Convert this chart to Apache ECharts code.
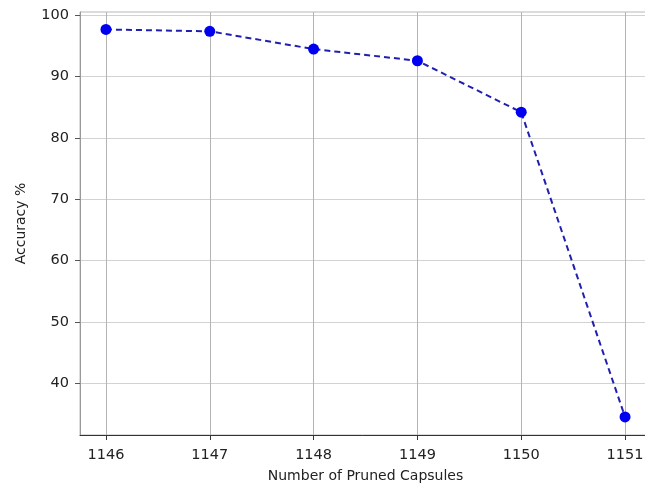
<!DOCTYPE html>
<html>
<head>
<meta charset="utf-8">
<script src="https://cdn.jsdelivr.net/npm/echarts@6/dist/echarts.min.js"></script>
<style>html,body{margin:0;padding:0;background:#fff}#c{width:645px;height:485px}</style>
</head>
<body>
<div id="c"></div>
<script>
const prunedCapsules = [1146, 1147, 1148, 1149, 1150, 1151];
const accuracy = [97.7, 97.4, 94.5, 92.6, 84.2, 34.5];
const xTicks = [1146, 1147, 1148, 1149, 1150, 1151];
const yTicks = [40, 50, 60, 70, 80, 90, 100];

const font = 'DejaVu Sans';
const chart = echarts.init(document.getElementById('c'), null, {renderer: 'canvas'});
chart.setOption({
  animation: false,
  backgroundColor: '#fff',
  grid: {left: 80, width: 571, top: 12, height: 423, outerBoundsMode: 'none', containLabel: false,
         show: true, borderColor: '#b8b8b8', borderWidth: 1},
  xAxis: {
    type: 'value', min: 1145.75, max: 1151.25,
    name: 'Number of Pruned Capsules', nameLocation: 'middle', nameGap: 34,
    nameTextStyle: {fontFamily: font, fontSize: 14, color: '#222'},
    axisLine: {show: true, lineStyle: {color: '#333', width: 1}},
    axisTick: {show: true, customValues: xTicks, length: 5, lineStyle: {color: '#333'}},
    axisLabel: {customValues: xTicks, formatter: v => String(v), fontFamily: font, fontSize: 14.5, color: '#222', margin: 13},
    splitLine: {show: true, lineStyle: {color: '#b4b4b4', width: 1}}
  },
  yAxis: {
    type: 'value', min: 31.55, max: 100.55,
    name: 'Accuracy %', nameLocation: 'middle', nameGap: 52,
    nameTextStyle: {fontFamily: font, fontSize: 14, color: '#222'},
    axisLine: {show: true, lineStyle: {color: '#999', width: 1}},
    axisTick: {show: true, customValues: yTicks, length: 5, lineStyle: {color: '#555'}},
    axisLabel: {customValues: yTicks, formatter: v => String(v), fontFamily: font, fontSize: 14.5, color: '#222', margin: 11},
    splitLine: {show: true, lineStyle: {color: '#d2d2d2', width: 1}}
  },
  series: [{
    type: 'line',
    data: prunedCapsules.map((x, i) => [x, accuracy[i]]),
    symbol: 'circle', symbolSize: 11,
    itemStyle: {color: '#0000f0'},
    lineStyle: {color: '#2020b0', width: 2, type: [6, 4]},
    clip: false
  }]
});
</script>
</body>
</html>
